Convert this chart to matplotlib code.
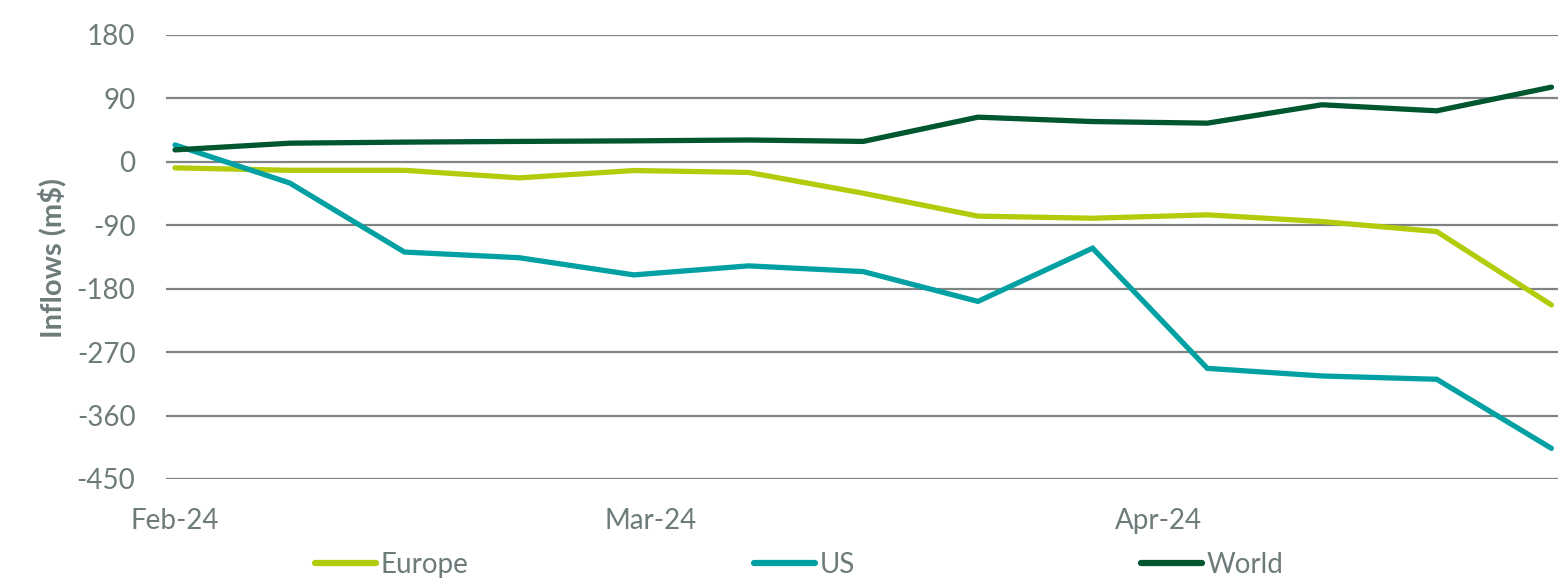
import matplotlib
matplotlib.use("Agg")
import matplotlib.pyplot as plt
import matplotlib.dates as mdates
import numpy as np
import datetime as dt

# Data
dates = [dt.date(2024, 2, 1) + dt.timedelta(days=7 * i) for i in range(13)]
europe = [-8.5, -12, -12, -22.7, -12.3, -15, -44.5, -77, -80, -75.2, -84.7, -98.9, -203]
us = [24, -30, -128, -136, -160.4, -147.6, -155.7, -198, -122.5, -293, -303.8, -308.5, -406.5]
world = [17, 26.5, 28, 29, 29.8, 31, 29, 63.4, 57.2, 54.9, 81, 72.4, 106]
series_names = ["Europe", "US", "World"]
yticks = [180, 90, 0, -90, -180, -270, -360, -450]
ylabel = "Inflows (m$)"

colors = {"Europe": "#B2CB0B", "US": "#00A0A3", "World": "#00562F"}
grid_color = "#7F8383"
text_color = "#6E7B7B"

plt.rcParams['font.family'] = ['Lato', 'DejaVu Sans']

fig = plt.figure(figsize=(15.59, 5.82), dpi=100)
ax = fig.add_axes([166 / 1559, 1 - 479 / 582, (1558 - 166) / 1559, (479 - 35) / 582])

num_dates = mdates.date2num(dates)
for name, vals in zip(series_names, [europe, us, world]):
    ax.plot(num_dates, vals, color=colors[name], lw=3.8, solid_capstyle='round',
            solid_joinstyle='miter', label=name, zorder=3)

ax.set_ylim(-450, 180)
ax.set_yticks(yticks)
ax.set_yticklabels([str(t) for t in yticks])
ax.set_xlim(num_dates[0] - 0.55, num_dates[-1] + 0.4)
ax.xaxis.set_major_locator(mdates.MonthLocator())
ax.xaxis.set_major_formatter(mdates.DateFormatter('%b-%y'))

ax.grid(axis='y', color=grid_color, lw=1.6, zorder=0)
ax.grid(axis='x', visible=False)
for s in ax.spines.values():
    s.set_visible(False)
ax.tick_params(axis='both', length=0, labelsize=20, labelcolor=text_color)
ax.tick_params(axis='y', pad=22)
ax.tick_params(axis='x', pad=21)

fig.text(52 / 1559, 1 - 258 / 582, ylabel, rotation=90, ha='center', va='center',
         fontsize=21, fontweight='bold', color=text_color)

leg = fig.legend(loc='center', bbox_to_anchor=(799 / 1559, 1 - 565 / 582), ncol=3,
                 frameon=False, fontsize=20, handlelength=2.2, handletextpad=0.15,
                 columnspacing=10.3, labelcolor=text_color)
for line in leg.get_lines():
    line.set_linewidth(4.5)
    line.set_solid_capstyle('round')

fig.savefig("out.png", dpi=100)
